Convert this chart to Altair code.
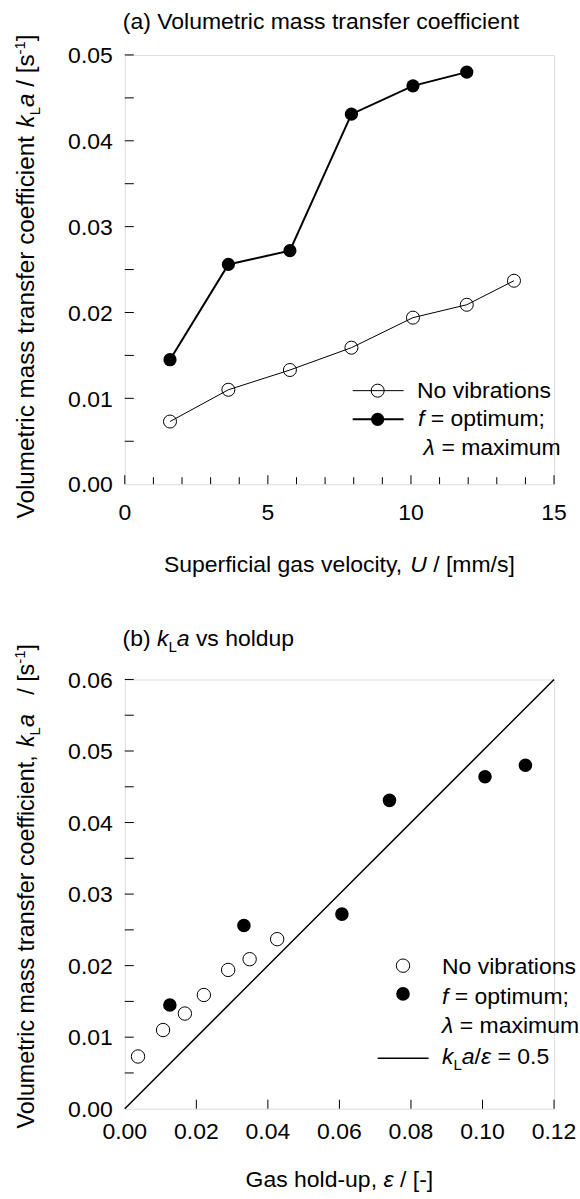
import altair as alt
import pandas as pd

FONT = "Liberation Sans"

# ---------------- data ----------------
U_novib = [1.58, 3.62, 5.77, 7.92, 10.07, 11.95, 13.60]
kla_novib = [0.0073, 0.0110, 0.0133, 0.0159, 0.0194, 0.0209, 0.0237]
U_vib = [1.58, 3.62, 5.77, 7.92, 10.07, 11.95]
kla_vib = [0.0145, 0.0256, 0.0272, 0.0431, 0.0464, 0.0480]

eps_novib = [0.0037, 0.0107, 0.0168, 0.0221, 0.0289, 0.0349, 0.0426]
eps_vib = [0.0126, 0.0333, 0.0607, 0.0740, 0.1007, 0.1120]
eps_fit = [0.0, 0.12]
kla_fit = [0.0, 0.06]

top_x_labels = [0, 5, 10, 15]
top_y_labels = [0.00, 0.01, 0.02, 0.03, 0.04, 0.05]
top_x_minor = [1, 2, 3, 4, 6, 7, 8, 9, 11, 12, 13, 14]
top_x_major = [0, 5, 10, 15]
top_y_ticks = [0.005, 0.010, 0.015, 0.020, 0.025, 0.030, 0.035, 0.040, 0.045, 0.050]
bot_x_labels = [0.00, 0.02, 0.04, 0.06, 0.08, 0.10, 0.12]
bot_y_labels = [0.00, 0.01, 0.02, 0.03, 0.04, 0.05, 0.06]
bot_y_ticks = [0.005, 0.010, 0.015, 0.020, 0.025, 0.030, 0.035, 0.040, 0.045,
               0.050, 0.055, 0.060]

W_PLOT, H_PLOT = 430, 430
FS = 23

# Helvetica/Arial advance widths (1/1000 em)
WID = {' ': 278, '(': 333, ')': 333, ',': 278, '-': 333, '.': 278, '/': 278,
       ';': 278, '=': 584, '[': 278, ']': 278, 'λ': 500, 'ε': 446}
for c in '0123456789':
    WID[c] = 556
WID.update(dict(zip('ABCDEFGHIJKLMNOPQRSTUVWXYZ',
                    [667, 667, 722, 722, 667, 611, 778, 722, 278, 500, 667, 556, 833,
                     722, 778, 667, 778, 722, 667, 611, 722, 667, 944, 667, 667, 611])))
WID.update(dict(zip('abcdefghijklmnopqrstuvwxyz',
                    [556, 556, 500, 556, 556, 278, 556, 556, 222, 222, 500, 222, 833,
                     556, 556, 556, 556, 333, 500, 278, 556, 500, 722, 500, 500, 500])))


def tw(s, size):
    return sum(WID.get(c, 556) for c in s) * size / 1000.0


def one():
    return pd.DataFrame({"d": [0]})


def rich(pieces, x, y, angle=0, center=False):
    """pieces: list of (text, style, size, dy)"""
    total = sum(tw(p[0], p[2]) for p in pieces)
    cur = -total / 2 if center else 0.0
    layers = []
    for text, style, size, dy in pieces:
        lead = len(text) - len(text.lstrip(" "))
        body = text.strip(" ")
        if body:
            props = dict(text=body, align="left", baseline="alphabetic", font=FONT,
                         fontSize=size, fontStyle=style, color="black",
                         dx=round(cur + lead * WID[' '] * size / 1000.0, 2))
            if dy:
                props["dy"] = dy
            if angle:
                props["angle"] = angle
            layers.append(alt.Chart(one()).mark_text(**props).encode(
                x=alt.value(x), y=alt.value(y)))
        cur += tw(text, size)
    return layers


N, I = "normal", "italic"
SUB = 15

NOAXIS = alt.Axis(title=None, ticks=False, labels=False, grid=False,
                  domainColor="black", domainWidth=1)


def xticks(values, xs, length):
    return alt.Chart(pd.DataFrame({"v": values})).mark_rule(color="black", strokeWidth=1).encode(
        x=alt.X("v:Q", scale=xs, axis=None), y=alt.value(H_PLOT), y2=alt.value(H_PLOT - length))


def yticks(values, ys, length):
    return alt.Chart(pd.DataFrame({"v": values})).mark_rule(color="black", strokeWidth=1).encode(
        y=alt.Y("v:Q", scale=ys, axis=None), x=alt.value(0), x2=alt.value(length))


def xlabels(values, xs, fmt, y):
    return alt.Chart(pd.DataFrame({"v": values})).mark_text(
        align="center", baseline="alphabetic", font=FONT, fontSize=FS, color="black").encode(
        x=alt.X("v:Q", scale=xs, axis=None), y=alt.value(y),
        text=alt.Text("v:Q", format=fmt))


def ylabels(values, ys, fmt, x):
    return alt.Chart(pd.DataFrame({"v": values})).mark_text(
        align="right", baseline="alphabetic", font=FONT, fontSize=FS, color="black",
        dy=8.2).encode(
        y=alt.Y("v:Q", scale=ys, axis=None), x=alt.value(x),
        text=alt.Text("v:Q", format=fmt))


def lrule(x1, x2, y, sw):
    return alt.Chart(one()).mark_rule(color="black", strokeWidth=sw).encode(
        x=alt.value(x1), x2=alt.value(x2), y=alt.value(y))


def lpoint(x, y, filled, size):
    return alt.Chart(one()).mark_point(shape="circle", filled=filled, size=size, color="black",
                                       strokeWidth=1, opacity=1).encode(
        x=alt.value(x), y=alt.value(y))


# ---------------- top panel ----------------
xs1 = alt.Scale(domain=[0, 15], nice=False, zero=False)
ys1 = alt.Scale(domain=[0, 0.05], nice=False)

df_nv = pd.DataFrame({"U": U_novib, "kla": kla_novib})
df_v = pd.DataFrame({"U": U_vib, "kla": kla_vib})

nv_line = alt.Chart(df_nv).mark_line(color="black", strokeWidth=1).encode(
    x=alt.X("U:Q", scale=xs1, axis=NOAXIS),
    y=alt.Y("kla:Q", scale=ys1, axis=NOAXIS))
nv_pts = alt.Chart(df_nv).mark_point(shape="circle", filled=False, size=170, color="black",
                                     strokeWidth=1, opacity=1).encode(
    x=alt.X("U:Q", scale=xs1, axis=None), y=alt.Y("kla:Q", scale=ys1, axis=None))
v_line = alt.Chart(df_v).mark_line(color="black", strokeWidth=2).encode(
    x=alt.X("U:Q", scale=xs1, axis=None), y=alt.Y("kla:Q", scale=ys1, axis=None))
v_pts = alt.Chart(df_v).mark_point(shape="circle", filled=True, size=175, color="black",
                                   opacity=1).encode(
    x=alt.X("U:Q", scale=xs1, axis=None), y=alt.Y("kla:Q", scale=ys1, axis=None))

anchor = alt.Chart(one()).mark_rule(opacity=0, strokeWidth=1).encode(
    x=alt.value(-124), x2=alt.value(-123), y=alt.value(-52.7), y2=alt.value(-52))

YT1 = 24.3
top_layers = [nv_line, nv_pts, v_line, v_pts,
              xticks(top_x_minor, xs1, 7), xticks(top_x_major, xs1, 9),
              yticks(top_y_ticks, ys1, 9),
              xlabels(top_x_labels, xs1, "d", 465.5),
              ylabels(top_y_labels, ys1, ".2f", -12),
              anchor,
              lrule(228.3, 279.3, 336.3, 1), lpoint(253.3, 336.3, False, 170),
              lrule(228.3, 279.3, 365, 2), lpoint(253.3, 365, True, 175)]
top_layers += rich([("(a) Volumetric mass transfer coefficient", N, FS, 0)], -2, -26)
top_layers += rich([("Volumetric mass transfer coefficient ", N, YT1, 0), ("k", I, YT1, 0),
                    ("L", N, SUB, 6), ("a", I, YT1, 0), (" / [s", N, YT1, 0),
                    ("-1", N, SUB, -9), ("]", N, YT1, 0)], -90.7, 464.3, angle=270)
top_layers += rich([("Superficial gas velocity, ", N, FS, 0), ("U", I, FS, 0),
                    (" / [mm/s]", N, FS, 0)], 215, 518.3, center=True)
top_layers += rich([("No vibrations", N, FS, 0)], 292.7, 343.8)
top_layers += rich([("f", I, FS, 0), (" = optimum;", N, FS, 0)], 293.7, 371.3)
top_layers += rich([("λ", I, FS, 0), (" = maximum", N, FS, 0)], 299.3, 400.6)

top = alt.layer(*top_layers).properties(width=W_PLOT, height=H_PLOT)

# ---------------- bottom panel ----------------
xs2 = alt.Scale(domain=[0, 0.12], nice=False, zero=False)
ys2 = alt.Scale(domain=[0, 0.06], nice=False)

df_bnv = pd.DataFrame({"eps": eps_novib, "kla": kla_novib})
df_bv = pd.DataFrame({"eps": eps_vib, "kla": kla_vib})
df_fit = pd.DataFrame({"eps": eps_fit, "kla": kla_fit})

fit_line = alt.Chart(df_fit).mark_line(color="black", strokeWidth=1.5).encode(
    x=alt.X("eps:Q", scale=xs2, axis=NOAXIS),
    y=alt.Y("kla:Q", scale=ys2, axis=NOAXIS))
bnv_pts = alt.Chart(df_bnv).mark_point(shape="circle", filled=False, size=180, color="black",
                                       strokeWidth=1, opacity=1).encode(
    x=alt.X("eps:Q", scale=xs2, axis=None), y=alt.Y("kla:Q", scale=ys2, axis=None))
bv_pts = alt.Chart(df_bv).mark_point(shape="circle", filled=True, size=185, color="black",
                                     opacity=1).encode(
    x=alt.X("eps:Q", scale=xs2, axis=None), y=alt.Y("kla:Q", scale=ys2, axis=None))

YT2 = 23.3
bot_layers = [fit_line, bnv_pts, bv_pts,
              xticks(bot_x_labels[1:], xs2, 9), yticks(bot_y_ticks, ys2, 9),
              xlabels(bot_x_labels, xs2, ".2f", 459.9),
              ylabels(bot_y_labels, ys2, ".2f", -12),
              lpoint(278.7, 286.7, False, 180), lpoint(278.7, 315, True, 185),
              lrule(253.3, 304.3, 379.4, 1.5)]
bot_layers += rich([("(b) ", N, FS, 0), ("k", I, FS, 0), ("L", N, SUB, 6),
                    ("a", I, FS, 0), (" vs holdup", N, FS, 0)], -2.3, -33.3)
bot_layers += rich([("Volumetric mass transfer coefficient, ", N, YT2, 0), ("k", I, YT2, 0),
                    ("L", N, SUB, 6), ("a", I, YT2, 0), ("   / [s", N, YT2, 0),
                    ("-1", N, SUB, -9), ("]", N, YT2, 0)], -91, 449.7, angle=270)
bot_layers += rich([("Gas hold-up, ", N, FS, 0), ("ε", I, FS, 0), (" / [-]", N, FS, 0)],
                   215, 508.4, center=True)
bot_layers += rich([("No vibrations", N, FS, 0)], 317.7, 295)
bot_layers += rich([("f", I, FS, 0), (" = optimum;", N, FS, 0)], 317.7, 325)
bot_layers += rich([("λ", I, FS, 0), (" = maximum", N, FS, 0)], 317.7, 354.4)
bot_layers += rich([("k", I, FS, 0), ("L", N, SUB, 6), ("a", I, FS, 0), ("/", N, FS, 0),
                    ("ε", I, FS, 0), (" = 0.5", N, FS, 0)], 317.7, 385)

bottom = alt.layer(*bot_layers).properties(width=W_PLOT, height=H_PLOT)

chart = alt.vconcat(top, bottom, spacing=195.6, bounds="flush").properties(
    padding=0
).configure_view(stroke=None).configure(font=FONT, background="white")

chart.save("out.html", embed_options={"renderer": "svg", "actions": False})
